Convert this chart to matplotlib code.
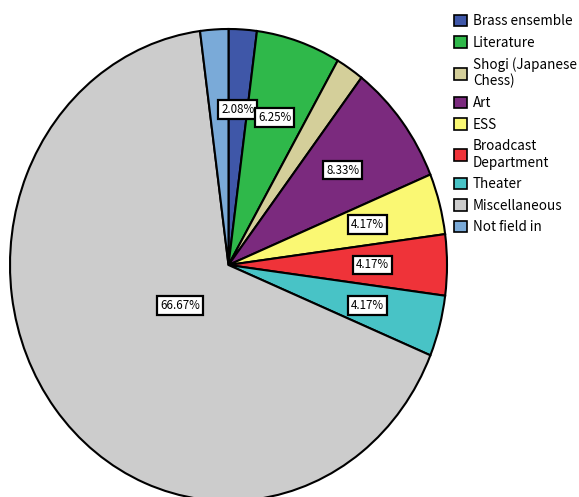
"""Club membership share pie chart."""
import numpy as np
import matplotlib
matplotlib.use("Agg")
import matplotlib.pyplot as plt
from matplotlib.patches import Patch

plt.rcParams['font.family'] = ['Noto Sans CJK JP', 'DejaVu Sans']

categories = ["Brass ensemble", "Literature", "Shogi (Japanese\nChess)", "Art", "ESS",
              "Broadcast\nDepartment", "Theater", "Miscellaneous", "Not field in"]
percent = [2.08, 6.25, 2.08, 8.33, 4.17, 4.17, 4.17, 66.67, 2.08]
show_label = [True, True, False, True, True, True, True, True, False]
colors = ["#3F57A8", "#2FB84A", "#D4CF9A", "#7B2A7E", "#FAF873",
          "#EF3339", "#48C3C6", "#CCCCCC", "#7AAAD8"]

W, H = 579, 497
fig = plt.figure(figsize=(W / 100, H / 100), dpi=100)
# the pie is drawn slightly taller than wide, as in the source
ax = fig.add_axes([10 / W, 1 - 501 / H, 437 / W, 472 / H])
wedges, _ = ax.pie(percent, colors=colors, startangle=90, counterclock=False,
                   wedgeprops=dict(edgecolor="black", linewidth=1.5))
ax.set_aspect("auto")
ax.set_xlim(-1, 1)
ax.set_ylim(-1, 1)
for w in wedges:
    w.set_clip_on(False)

for w, val, show in zip(wedges, percent, show_label):
    if not show:
        continue
    mid = np.deg2rad((w.theta1 + w.theta2) / 2)
    dist = 0.28 if val > 50 else 0.66
    ax.text(dist * np.cos(mid), dist * np.sin(mid), f"{val:.2f}%",
            ha="center", va="center", fontsize=8.3,
            bbox=dict(boxstyle="square,pad=0.25", facecolor="white",
                      edgecolor="black", linewidth=1.6))

handles = [Patch(facecolor=c, edgecolor="black", linewidth=1.2) for c in colors]
fig.legend(handles, categories, loc="upper left", bbox_to_anchor=(454 / W, 1 - 14 / H),
           frameon=False, fontsize=9.7, handlelength=0.96, handleheight=0.96,
           handletextpad=0.45, labelspacing=0.56, borderaxespad=0, borderpad=0)

fig.savefig("out.png", dpi=100)
